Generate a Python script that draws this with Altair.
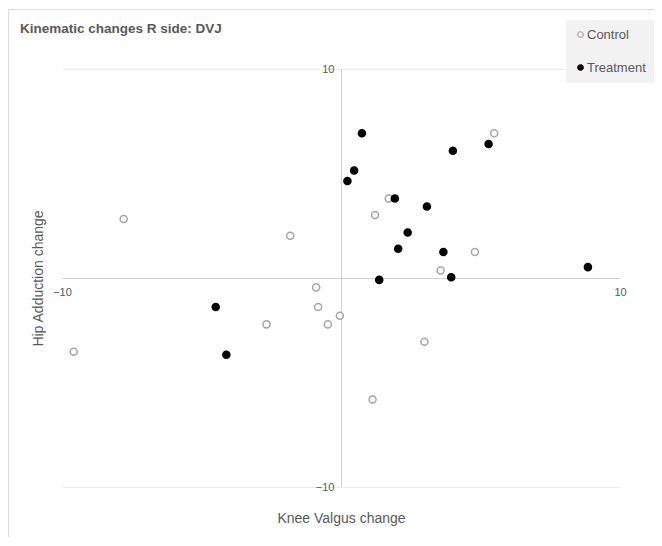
import altair as alt
import pandas as pd

groups = ["Control", "Treatment"]

control_x = [-7.79, -1.82, -0.89, -0.82, -0.47, -0.04, -2.67, -9.58, 1.71, 1.22, 4.80, 3.57, 5.49, 2.99, 1.13]
control_y = [2.82, 2.02, -0.45, -1.39, -2.22, -1.81, -2.22, -3.53, 3.80, 3.01, 1.24, 0.36, 6.93, -3.05, -5.81]

treatment_x = [-4.49, -4.11, 0.75, 0.47, 0.23, 1.93, 3.08, 2.39, 2.05, 3.67, 3.95, 1.37, 8.85, 4.01, 5.29]
treatment_y = [-1.39, -3.67, 6.93, 5.14, 4.64, 3.80, 3.42, 2.18, 1.40, 1.24, 0.04, -0.09, 0.52, 6.09, 6.41]

axis_ticks = [-10, 10]

df = pd.DataFrame({
    "knee": control_x + treatment_x,
    "hip": control_y + treatment_y,
    "group": ["Control"] * len(control_x) + ["Treatment"] * len(treatment_x),
})

FONT = "Liberation Sans"
TXT = "#595959"

legend = alt.Legend(
    title=None, orient="none", legendX=504, legendY=-49,
    fillColor="#f2f2f2", padding=8, labelFontSize=13, labelColor=TXT,
    labelFont=FONT, symbolSize=30, rowPadding=19, labelOffset=0,
    symbolStrokeWidth=1.2, symbolType="circle",
)

points = alt.Chart(df).mark_point(filled=True, size=50, strokeWidth=1.5, opacity=1).encode(
    x=alt.X("knee:Q",
            scale=alt.Scale(domain=[-10, 10], nice=False, zero=False),
            axis=alt.Axis(values=axis_ticks, offset=-209, grid=False, ticks=False,
                          domainColor="#d0d0d0", labelFlush=False, labelPadding=8,
                          labelFontSize=11, labelColor=TXT, labelFont=FONT,
                          title="Knee Valgus change", titlePadding=214, titleFontSize=14,
                          titleFontWeight="normal", titleColor=TXT, titleFont=FONT)),
    y=alt.Y("hip:Q",
            scale=alt.Scale(domain=[-10, 10], nice=False, zero=False),
            axis=alt.Axis(values=axis_ticks, offset=-279, grid=True, gridColor="#ececec",
                          ticks=False, domainColor="#d0d0d0", labelFlush=False,
                          labelPadding=7, labelFontSize=11, labelColor=TXT, labelFont=FONT,
                          title="Hip Adduction change", titlePadding=270, titleFontSize=14,
                          titleFontWeight="normal", titleColor=TXT, titleFont=FONT)),
    fill=alt.Fill("group:N", scale=alt.Scale(domain=groups, range=["white", "black"]), legend=legend),
    stroke=alt.Stroke("group:N", scale=alt.Scale(domain=groups, range=["#a6a6a6", "black"]), legend=legend),
)

border = alt.Chart(alt.Data(values=[{}])).mark_rect(
    fill="transparent", stroke="#dcdcdc", strokeWidth=1
).encode(
    x=alt.value(-53.5), y=alt.value(-59.5), x2=alt.value(700), y2=alt.value(600)
)

chart = alt.layer(border, points).properties(
    width=558,
    height=418,
    padding={"left": 54, "top": 61, "right": 34, "bottom": 50},
    autosize=alt.AutoSizeParams(type="none"),
    title=alt.Title("Kinematic changes R side: DVJ", anchor="start", frame="group",
                    dx=-42, offset=-26, fontSize=13.5, fontWeight="bold", color=TXT, font=FONT),
).configure(font=FONT).configure_view(strokeWidth=0)

chart.save("out.html", embed_options={"renderer": "svg", "actions": False})
